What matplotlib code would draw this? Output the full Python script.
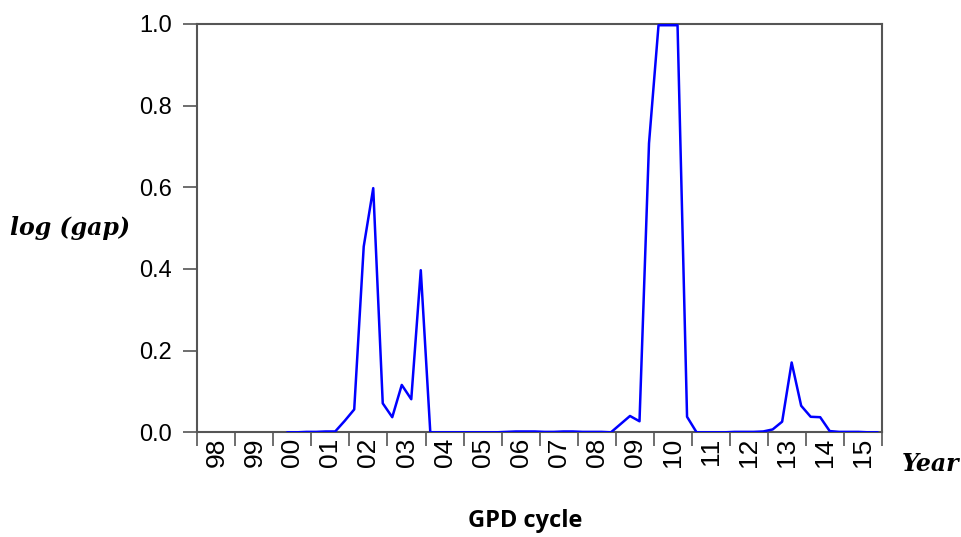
import numpy as np
import matplotlib.pyplot as plt

# quarterly observations, 1998Q1 .. 2015Q4 (nan = no data)
years = list(range(1998, 2016))
gap = [
    np.nan, np.nan, np.nan, np.nan,      # 1998
    np.nan, np.nan, np.nan, np.nan,      # 1999
    np.nan, 0.000, 0.000, 0.001,         # 2000
    0.001, 0.002, 0.002, 0.028,          # 2001
    0.056, 0.455, 0.598, 0.071,          # 2002
    0.037, 0.116, 0.081, 0.397,          # 2003
    0.000, 0.000, 0.000, 0.000,          # 2004
    0.000, 0.000, 0.000, 0.000,          # 2005
    0.001, 0.002, 0.002, 0.002,          # 2006
    0.001, 0.001, 0.002, 0.002,          # 2007
    0.001, 0.001, 0.001, 0.000,          # 2008
    0.020, 0.040, 0.027, 0.708,          # 2009
    0.997, 0.997, 0.997, 0.038,          # 2010
    0.000, 0.000, 0.000, 0.000,          # 2011
    0.001, 0.001, 0.001, 0.002,          # 2012
    0.007, 0.026, 0.171, 0.065,          # 2013
    0.038, 0.037, 0.003, 0.001,          # 2014
    0.001, 0.001, 0.000, 0.000,          # 2015
]
year_labels = [f"{y % 100:02d}" for y in years]
yticks = [0.0, 0.2, 0.4, 0.6, 0.8, 1.0]

t = np.array([y + (q - 0.5) / 4 for y in years for q in range(1, 5)])

W, H = 962, 537
fig = plt.figure(figsize=(W / 100, H / 100), dpi=100)
ax = fig.add_axes([197.3 / W, 1 - 432.3 / H, (882 - 197.3) / W, (432.3 - 24) / H])

ax.plot(t, gap, color='#0000ff', lw=1.8, zorder=3)

ax.set_xlim(1998, 2016)
ax.set_ylim(0, 1.0)

ax.set_xticks(list(years) + [2016])
ax.set_xticklabels([])
ax.set_xticks([y + 0.5 for y in years], minor=True)
ax.set_xticklabels(year_labels, minor=True, rotation=90,
                   fontdict=dict(family=['Liberation Sans', 'DejaVu Sans'], size=19))
ax.tick_params(axis='x', which='major', direction='out', length=10, width=1.2, color='#555555')
ax.tick_params(axis='x', which='minor', length=0, pad=4)

ax.set_yticks(yticks)
ax.set_yticklabels([f"{v:.1f}" for v in yticks],
                   fontdict=dict(family=['Liberation Sans', 'DejaVu Sans'], size=17))
ax.tick_params(axis='y', direction='out', length=10, width=1.2, color='#555555', pad=8)

for s in ax.spines.values():
    s.set_color('#555555')
    s.set_linewidth(1.5)

fig.text(70 / W, 1 - 228 / H, 'log (gap)', ha='center', va='center',
         family='DejaVu Serif', style='italic', weight='bold', size=17)
fig.text(931 / W, 1 - 464 / H, 'Year', ha='center', va='center',
         family='DejaVu Serif', style='italic', weight='bold', size=17)
fig.text(525 / W, 1 - 521 / H, 'GPD cycle', ha='center', va='center',
         family='Open Sans', weight='bold', size=17)

fig.savefig('out.png', dpi=100)
